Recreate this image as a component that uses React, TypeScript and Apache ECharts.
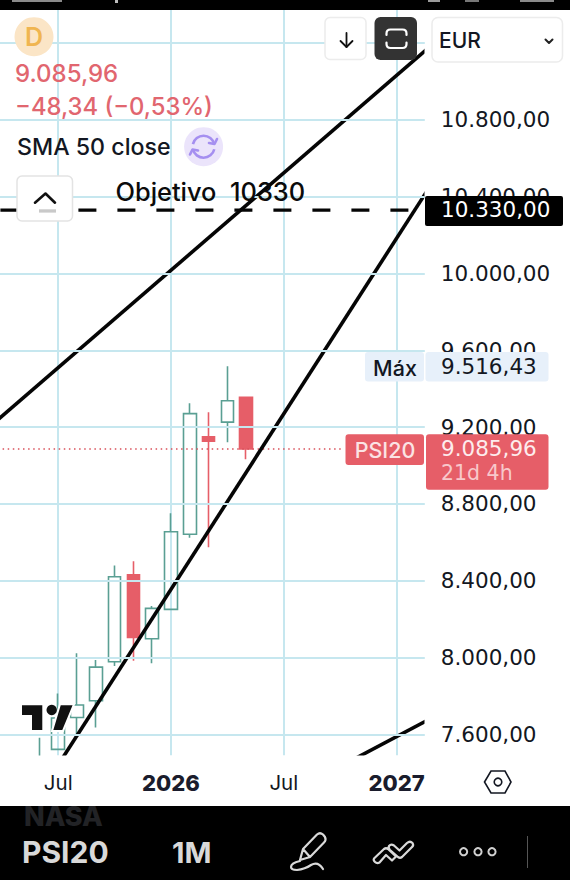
import React, { useEffect, useRef } from "react";
import * as echarts from "echarts";

const months = ["2025-04","2025-05","2025-06","2025-07","2025-08","2025-09","2025-10","2025-11","2025-12","2026-01","2026-02","2026-03","2026-04","2026-05","2026-06","2026-07","2026-08","2026-09","2026-10","2026-11","2026-12","2027-01","2027-02"];
const axisMonthLabels: Record<string, string> = { "2025-07": "Jul", "2026-01": "2026", "2026-07": "Jul", "2027-01": "2027" };
// open, close, low, high
const candles: (number[] | string)[] = [
  "-", "-",
  [7380, 7470, 7350, 7582],
  [7522, 7685, 7522, 7813],
  [7688, 7753, 7593, 8022],
  [7775, 7950, 7636, 7987],
  [7978, 8421, 7956, 8480],
  [8431, 8105, 7983, 8501],
  [8098, 8256, 7970, 8268],
  [8251, 8655, 8251, 8751],
  [8642, 9270, 8624, 9324],
  [9150, 9126, 8574, 9277],
  [9226, 9337, 9121, 9516.43],
  [9355, 9085.96, 9032, 9360],
];
const yTickValues = [7600, 8000, 8400, 8800, 9200, 9600, 10000, 10400, 10800, 11200];
const yLabelValues = [7600, 8000, 8400, 8800, 9200, 9600, 10000, 10400, 10800];
const xGridMonths = [3, 9, 15, 21];
const trendUpper = [[-1, 9171], [23, 11201]];
const trendMain = [[2, 7289], [23, 10488]];
const trendLower = [[18, 7433], [23, 7692]];
const targetLevel = 10330;
const lastPrice = 9085.96;

const UI = "Inter, 'Noto Sans', sans-serif";
const NUM = "'DejaVu Sans', sans-serif";
const GREEN = "#5a9f93";
const RED = "#e65e68";
const GRID = "#c6e7ef";
const INK = "#131722";

function esNumber(v: number) {
  const [i, d] = v.toFixed(2).split(".");
  return i.replace(/\B(?=(\d{3})+$)/g, ".") + "," + d;
}

function txt(text: string, x: number, y: number, fill: string, font: string, align = "left") {
  return { type: "text", z: 100, style: { text, x, y, fill, font, align, verticalAlign: "middle" } };
}
function box(x: number, y: number, w: number, h: number, fill: string, r = 0, stroke?: string, z = 99) {
  return { type: "rect", z, shape: { x, y, width: w, height: h, r }, style: { fill, stroke: stroke ?? "none", lineWidth: stroke ? 1.5 : 0 } };
}
function poly(points: number[][], stroke: string, lineWidth: number) {
  return { type: "polyline", z: 101, shape: { points }, style: { stroke, lineWidth, fill: "none", lineCap: "round", lineJoin: "round" } };
}
function shape(type: string, style: object) {
  return { type, z: 101, x: 0, y: 0, style };
}

echarts.graphic.registerShape("fitIcon", echarts.graphic.extendPath("M386.5 35 V33.5 Q386.5 29.5 390.5 29.5 H402.5 Q406.5 29.5 406.5 33.5 V35 M386.5 42.5 V44 Q386.5 48 390.5 48 H402.5 Q406.5 48 406.5 44 V42.5", {}));
echarts.graphic.registerShape("penIcon", echarts.graphic.extendPath("M300 860 L303 849 L317 834.5 Q320 832 323 834.5 L325 837 Q326.5 840 324 842.5 L310 857 Z M303 849 L310 857 M300 861 Q291 863 291 867 Q291 870 297 870 Q305 869 311 865 Q318 861 323 869", {}));
echarts.graphic.registerShape("indIcon", echarts.graphic.extendPath("M374 858.5 L384 849 Q386 847.5 388 849 L396 856.5 L392 860.5 L386 855 L379.5 862.5 Q377 864 375 862 Q373 860 374 858.5 Z M389 846 Q391 843.5 394 845.5 L399.5 850.5 L407 843 Q410 840.5 412.5 843 Q414 845.5 412 847 L402 857 Q400 858.5 398 857 L390 850 Q388 848 389 846 Z", {}));

export default function App() {
  const ref = useRef<HTMLDivElement>(null);
  useEffect(() => {
    const chart = echarts.init(ref.current!, null, { renderer: "svg" });
    chart.setOption({
      animation: false,
      backgroundColor: "#ffffff",
      grid: { left: -7.6, top: 10, width: 432.4, height: 745.5, containLabel: false, outerBoundsMode: "none" },
      xAxis: [
        {
          type: "category",
          data: months,
          z: 10,
          axisLine: { show: false },
          axisTick: { show: false },
          splitLine: { show: false },
          axisLabel: {
            interval: (_: number, v: string) => v in axisMonthLabels,
            hideOverlap: false,
            margin: 16,
            formatter: (v: string) => {
              const l = axisMonthLabels[v] ?? "";
              return /^\d/.test(l) ? `{y|${l}}` : `{m|${l}}`;
            },
            rich: {
              m: { fontFamily: UI, fontSize: 20.5, color: INK },
              y: { fontFamily: UI, fontSize: 22, fontWeight: 800, color: "#1a1c2c" },
            },
          },
        },
        {
          type: "value",
          min: -0.5,
          max: 22.5,
          axisLine: { show: false },
          axisLabel: { show: false },
          axisTick: { show: false, customValues: xGridMonths },
          splitLine: { show: true, lineStyle: { color: GRID, width: 2 } },
        },
      ],
      yAxis: {
        type: "value",
        position: "right",
        min: 7490,
        max: 11372,
        z: 10,
        axisLine: { show: false },
        axisTick: { show: false, customValues: yTickValues },
        splitLine: { show: true, lineStyle: { color: GRID, width: 2 } },
        axisLabel: {
          customValues: yLabelValues,
          margin: 16,
          fontFamily: NUM,
          fontSize: 21.5,
          color: INK,
          formatter: (v: number) => esNumber(v),
        },
      },
      series: [
        {
          type: "candlestick",
          data: candles,
          barWidth: 13,
          z: 3,
          itemStyle: { color: "transparent", color0: RED, borderColor: GREEN, borderColor0: RED, borderWidth: 1.6 },
        },
        {
          type: "line", xAxisIndex: 1, showSymbol: false, symbol: "none", z: 4, silent: true,
          data: [[-0.5, lastPrice], [18.2, lastPrice]],
          lineStyle: { color: "#d9505a", width: 1.5, type: [1.5, 3.6] },
        },
        ...[trendUpper, trendMain, trendLower].map((data) => ({
          type: "line", xAxisIndex: 1, showSymbol: false, symbol: "none", z: 5, silent: true,
          data, lineStyle: { color: "#050505", width: 3.6 },
        })),
        {
          type: "line", xAxisIndex: 1, showSymbol: false, symbol: "none", z: 5, silent: true,
          data: [[-0.5, targetLevel], [22.5, targetLevel]],
          lineStyle: { color: "#050505", width: 3.4, type: [18, 21], dashOffset: -7.6 },
        },
      ],
      graphic: [
        // covers for marks running past the plot, under the axis labels
        box(0, 755.5, 570, 51, "#fff", 0, undefined, 6),
        box(424.5, 10, 146, 746, "#fff", 0, undefined, 6),
        // status bar and toolbar
        box(0, 0, 570, 10, "#000"),
        box(12, 0, 50, 2, "#8a8a8a", 0, undefined, 100),
        box(115, 0, 3, 3, "#bdbdbd", 0, undefined, 100),
        box(428, 0, 12, 2, "#9a9a9a", 0, undefined, 100),
        box(465, 0, 14, 2, "#777", 0, undefined, 100),
        box(520, 0, 34, 2, "#8a8a8a", 0, undefined, 100),
        box(0, 806, 570, 74, "#000"),
        txt("NASA", 24, 816, "#222326", `800 27px ${UI}`),
        txt("PSI20", 22, 852, "#d9d9d9", `700 30px ${UI}`),
        txt("1M", 172, 852, "#d9d9d9", `700 29px ${UI}`),
        shape("penIcon", { fill: "none", stroke: "#d9d9d9", lineWidth: 2.2, lineJoin: "round", lineCap: "round" }),
        shape("indIcon", { fill: "none", stroke: "#d9d9d9", lineWidth: 2.2, lineJoin: "round" }),
        ...[463.6, 478, 492].map((cx) => ({ type: "circle", z: 101, shape: { cx, cy: 851.7, r: 3.6 }, style: { fill: "none", stroke: "#d0d0d0", lineWidth: 2 } })),
        box(527, 836, 1, 32, "#555"),
        // legend block
        { type: "circle", z: 99, shape: { cx: 34, cy: 36.7, r: 19.5 }, style: { fill: "#fbe5c6" } },
        txt("D", 34, 37, "#f0b550", `600 25px ${UI}`, "center"),
        txt("9.085,96", 15, 73.5, "#e1666f", `500 24px ${UI}`),
        txt("−48,34 (−0,53%)", 15, 106.5, "#e1666f", `500 23.8px ${UI}`),
        txt("SMA 50 close", 17, 146.5, INK, `500 23.2px ${UI}`),
        { type: "circle", z: 99, shape: { cx: 203.6, cy: 146.7, r: 19.5 }, style: { fill: "#ebe4fb" } },
        { type: "arc", z: 101, shape: { cx: 203.6, cy: 146.7, r: 11, startAngle: -2.9, endAngle: -0.25 }, style: { stroke: "#a58ff0", lineWidth: 2.6, fill: "none" } },
        { type: "arc", z: 101, shape: { cx: 203.6, cy: 146.7, r: 11, startAngle: 0.24, endAngle: 2.9 }, style: { stroke: "#a58ff0", lineWidth: 2.6, fill: "none" } },
        poly([[209, 143], [214.5, 144], [217, 139]], "#a58ff0", 2.6),
        poly([[198, 150.5], [192.5, 149.5], [190, 154.5]], "#a58ff0", 2.6),
        // collapse button
        box(17, 176, 55.5, 45, "#fff", 5, "#e3e3e3"),
        poly([[35, 202.7], [45.5, 193.5], [55, 202.7]], "#111", 2.6),
        box(39, 209.3, 17, 3.3, "#c9c9c9"),
        txt("Objetivo  10330", 115.5, 191.5, "#0b0b0b", `500 25.4px ${UI}`),
        // top buttons
        box(325, 17.5, 41, 42, "#fff", 5, "#ececec"),
        poly([[346.5, 33], [346.5, 47]], "#111", 1.8),
        poly([[340.5, 41], [346.5, 47], [352.5, 41]], "#111", 1.8),
        box(374.5, 17, 42.5, 43, "#333333", 6),
        shape("fitIcon", { fill: "none", stroke: "#fff", lineWidth: 2.2, lineCap: "round" }),
        box(432, 17.5, 130.5, 44.5, "#fff", 6, "#ececec"),
        txt("EUR", 439, 40.5, INK, `500 21px ${UI}`),
        poly([[545.5, 39.5], [549, 43], [552.5, 39.5]], "#222", 2),
        // price tags
        box(425, 196, 138, 30, "#000", 2),
        txt("10.330,00", 441, 209.5, "#fff", `21.5px ${NUM}`),
        box(365, 352, 59, 29.5, "#e7f0fa", 3),
        box(425.5, 352, 123, 29.5, "#e7f0fa", 3),
        txt("Máx", 395, 368, INK, `500 21.5px ${UI}`, "center"),
        txt("9.516,43", 441, 366, INK, `21.5px ${NUM}`),
        box(345.5, 434.3, 78.5, 30.7, RED, 3),
        txt("PSI20", 385, 449.5, "#fbe3e4", `500 21.5px ${UI}`, "center"),
        box(426, 434.3, 122.5, 55.5, RED, 3),
        txt("9.085,96", 441, 448, "#fdeced", `21.5px ${NUM}`),
        txt("21d 4h", 441, 473, "#f8c8cb", `20.5px ${NUM}`),
        // logo
        { type: "polygon", z: 101, shape: { points: [[21, 704.3], [43.3, 704.3], [43.3, 731], [31, 731], [31, 716], [21, 716]] }, style: { fill: "#111", stroke: "#fff", lineWidth: 2 } },
        { type: "polygon", z: 101, shape: { points: [[60, 704.3], [74, 704.3], [63, 731], [52, 731]] }, style: { fill: "#111", stroke: "#fff", lineWidth: 2 } },
        { type: "circle", z: 101, shape: { cx: 51.7, cy: 710, r: 5.2 }, style: { fill: "#111" } },
        // settings hexagon
        { type: "polygon", z: 101, shape: { points: [[484.5, 782], [491, 771], [505, 771], [511, 782], [505, 793], [491, 793]] }, style: { fill: "none", stroke: INK, lineWidth: 1.6 } },
        { type: "circle", z: 101, shape: { cx: 498, cy: 782, r: 3.8 }, style: { fill: "none", stroke: INK, lineWidth: 1.6 } },
      ],
    });
    return () => chart.dispose();
  }, []);
  return <div ref={ref} style={{ position: "absolute", left: 0, top: 0, width: 570, height: 880 }} />;
}
